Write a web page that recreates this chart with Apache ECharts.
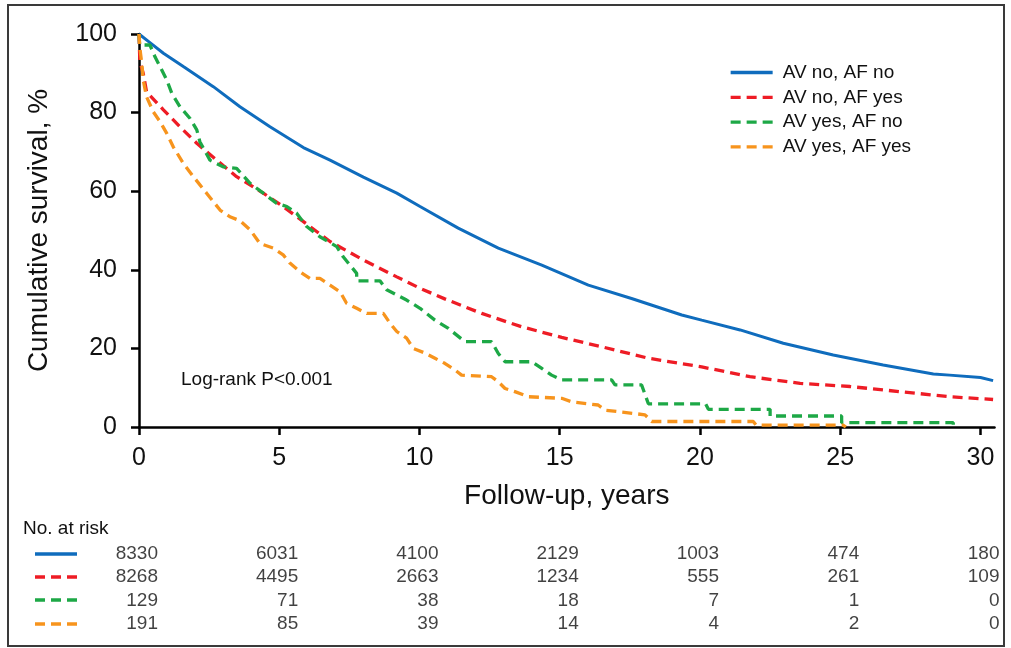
<!DOCTYPE html>
<html>
<head>
<meta charset="utf-8">
<script src="https://cdn.jsdelivr.net/npm/echarts@6/dist/echarts.min.js"></script>
<style>
  html, body { margin: 0; padding: 0; background: #fff; }
  #chart { width: 1011px; height: 648px; }
</style>
</head>
<body>
<div id="chart"></div>
<script>
// survival curves, [years, %]
const names = ['AV no, AF no', 'AV no, AF yes', 'AV yes, AF no', 'AV yes, AF yes'];

const avNoAfNo = [[0,100],[0.39,97.8],[0.87,95.1],[1.58,91.7],[2.65,86.6],[3.6,81.5],[4.67,76.4],
  [5.86,71.1],[6.81,67.9],[8.0,63.6],[9.19,59.5],[10.02,56.1],[11.38,50.6],[12.81,45.5],[14.36,41.2],
  [16.02,36.1],[17.56,32.7],[19.35,28.5],[20.06,27.2],[21.43,24.7],[22.97,21.3],[24.75,18.3],
  [26.53,15.8],[28.32,13.5],[28.9,13.2],[30.0,12.6],[30.45,11.8]];

const avNoAfYes = [[0,100],[0.03,93],[0.15,90],[0.27,85.3],[0.87,80.7],[1.46,76.4],[2.06,72.2],
  [2.77,67.9],[3.48,63.7],[4.43,59.5],[5.14,56.1],[6.1,51.0],[6.81,47.2],[8.0,42.5],[9.19,38.2],
  [10.02,35.3],[10.9,32.6],[12.22,28.9],[13.64,25.5],[15.07,22.8],[16.5,20.4],[18.16,17.5],
  [20.06,15.3],[21.78,12.8],[23.57,11.1],[25.35,10.3],[27.13,9.0],[28.91,7.7],[30.45,7.0]];

const avYesAfNo = [[0,100],[0.02,97.2],[0.39,97.2],[0.57,94.2],[0.75,91.7],[0.99,88.3],[1.17,84.9],
  [1.46,81.5],[1.82,78.5],[2.06,75.6],[2.17,72.6],[2.53,67.9],[3.0,66.2],[3.48,65.8],[3.96,62.0],
  [4.43,59.5],[4.91,56.9],[5.27,56.1],[5.62,54.4],[5.98,51.0],[6.45,48.4],[7.05,45.9],[7.28,43.3],
  [7.76,39.1],[7.76,37.2],[8.59,37.2],[8.83,34.9],[9.54,32.3],[10.02,30.2],[10.55,27.2],[11.03,25.1],
  [11.62,21.7],[12.57,21.7],[12.81,18.7],[13.05,16.6],[14.0,16.6],[14.36,14.9],[14.71,13.2],
  [15.07,12.0],[16.85,12.0],[16.97,10.7],[17.92,10.7],[18.16,5.9],[20.2,5.9],[20.3,4.5],[22.5,4.5],
  [22.5,2.8],[25.05,2.8],[25.05,1.1],[29.03,1.1],[29.03,0]];

const avYesAfYes = [[0,100],[0.04,95.9],[0.1,92.5],[0.15,88.3],[0.27,84.0],[0.51,80.2],[0.75,77.7],
  [0.99,74.7],[1.22,71.3],[1.58,67.1],[1.94,63.7],[2.41,59.5],[2.89,55.2],[3.24,53.5],[3.6,52.5],
  [3.96,50.2],[4.31,46.7],[4.79,45.5],[5.14,43.8],[5.38,41.7],[5.74,39.5],[6.1,37.8],[6.45,37.8],
  [6.81,36.1],[7.17,34.4],[7.4,31.5],[7.76,30.2],[8.12,28.9],[8.71,28.9],[8.95,26.4],[9.19,24.3],
  [9.54,22.6],[9.78,20.0],[10.2,18.8],[10.55,17.5],[10.9,16.2],[11.27,14.5],[11.5,13.2],[12.57,12.8],
  [12.81,11.5],[13.05,9.8],[13.4,9.0],[13.88,7.7],[15.07,7.3],[15.43,6.4],[16.37,5.6],[16.61,4.3],
  [18.04,3.1],[18.28,1.4],[21.9,1.4],[22.0,0.5],[25.1,0.5],[25.2,0]];

// number at risk
const riskTimes = [0, 5, 10, 15, 20, 25, 30];
const riskAvNoAfNo = [8330, 6031, 4100, 2129, 1003, 474, 180];
const riskAvNoAfYes = [8268, 4495, 2663, 1234, 555, 261, 109];
const riskAvYesAfNo = [129, 71, 38, 18, 7, 1, 0];
const riskAvYesAfYes = [191, 85, 39, 14, 4, 2, 0];

const xTicks = [0, 5, 10, 15, 20, 25, 30];

const colors = ['#0F6CBD', '#EE1C25', '#1DA846', '#F7941D'];
const dashes = ['solid', [10, 6], [10, 6], [10, 6]];
const font = 'Arial, "Liberation Sans", sans-serif';
const ink = '#111';

const curves = [avNoAfNo, avNoAfYes, avYesAfNo, avYesAfYes];
const risks = [riskAvNoAfNo, riskAvNoAfYes, riskAvYesAfNo, riskAvYesAfYes];

const chart = echarts.init(document.getElementById('chart'), null, { renderer: 'canvas' });

const lineSeries = curves.map((data, i) => ({
  name: names[i],
  type: 'line',
  xAxisIndex: 0,
  yAxisIndex: 0,
  data: data,
  symbol: 'none',
  silent: true,
  lineStyle: { color: colors[i], width: i === 0 ? 3 : 3.3, type: dashes[i] },
  itemStyle: { color: colors[i] }
}));

const riskSeries = risks.map((vals, i) => ({
  type: 'scatter',
  xAxisIndex: 1,
  yAxisIndex: 1,
  symbolSize: 1,
  silent: true,
  itemStyle: { color: 'rgba(0,0,0,0)' },
  data: riskTimes.map((t, j) => [t, i, vals[j]]),
  label: {
    show: true,
    position: [19.5, 0.5],
    align: 'right',
    verticalAlign: 'middle',
    formatter: p => String(p.value[2]),
    fontSize: 19,
    fontFamily: font,
    color: ink
  }
}));

// little line keys in front of the risk rows
const rowY = [554, 577, 600, 624];
const keyLines = rowY.map((y, i) => ({
  type: 'line',
  shape: { x1: 35, y1: y, x2: 77, y2: y },
  style: { stroke: colors[i], lineWidth: 3.3, lineDash: i === 0 ? null : [10, 6] }
}));

chart.setOption({
  animation: false,
  backgroundColor: '#fff',
  grid: [
    { left: 139, right: 16.5, top: 34, height: 393 },
    { left: 139, right: 16.5, top: 542, height: 94 }
  ],
  xAxis: [
    {
      type: 'value', gridIndex: 0, min: 0, max: 30.5, interval: 5,
      name: 'Follow-up, years', nameLocation: 'middle', nameGap: 55,
      nameTextStyle: { fontSize: 28, fontFamily: font, color: ink },
      axisLine: { show: true, lineStyle: { color: '#000', width: 2.5 } },
      axisTick: { show: true, inside: false, length: 8, customValues: xTicks, lineStyle: { color: '#000', width: 2.5 } },
      axisLabel: { margin: 19, fontSize: 25, fontFamily: font, color: ink, customValues: xTicks },
      splitLine: { show: false }
    },
    {
      type: 'value', gridIndex: 1, min: 0, max: 30.5, show: false
    }
  ],
  yAxis: [
    {
      type: 'value', gridIndex: 0, min: 0, max: 100, interval: 20,
      name: 'Cumulative survival, %', nameLocation: 'middle', nameGap: 86, nameRotate: 90,
      nameTextStyle: { fontSize: 28, fontFamily: font, color: ink },
      axisLine: { show: true, lineStyle: { color: '#000', width: 2.5 } },
      axisTick: { show: true, inside: false, length: 8, lineStyle: { color: '#000', width: 2.5 } },
      axisLabel: { margin: 22, fontSize: 25, fontFamily: font, color: ink },
      splitLine: { show: false }
    },
    {
      type: 'category', gridIndex: 1, data: ['0', '1', '2', '3'], inverse: true, show: false
    }
  ],
  legend: {
    data: names,
    orient: 'vertical',
    left: 724,
    top: 58,
    itemWidth: 42,
    itemHeight: 14,
    itemGap: 5.8,
    selectedMode: false,
    itemStyle: { opacity: 0 },
    lineStyle: { width: 3.3 },
    textStyle: { fontSize: 19, fontFamily: font, color: ink, padding: [0, 0, 0, 5] }
  },
  graphic: [
    {
      type: 'rect',
      shape: { x: 8, y: 5, width: 996, height: 641 },
      style: { fill: 'rgba(0,0,0,0)', stroke: '#3a3a3a', lineWidth: 2 },
      silent: true
    },
    {
      type: 'text', left: 181, top: 370,
      style: { text: 'Log-rank P<0.001', fontSize: 19, fontFamily: font, fill: ink }
    },
    {
      type: 'text', left: 23, top: 519,
      style: { text: 'No. at risk', fontSize: 19, fontFamily: font, fill: ink }
    }
  ].concat(keyLines),
  series: lineSeries.concat(riskSeries)
});
</script>
</body>
</html>
